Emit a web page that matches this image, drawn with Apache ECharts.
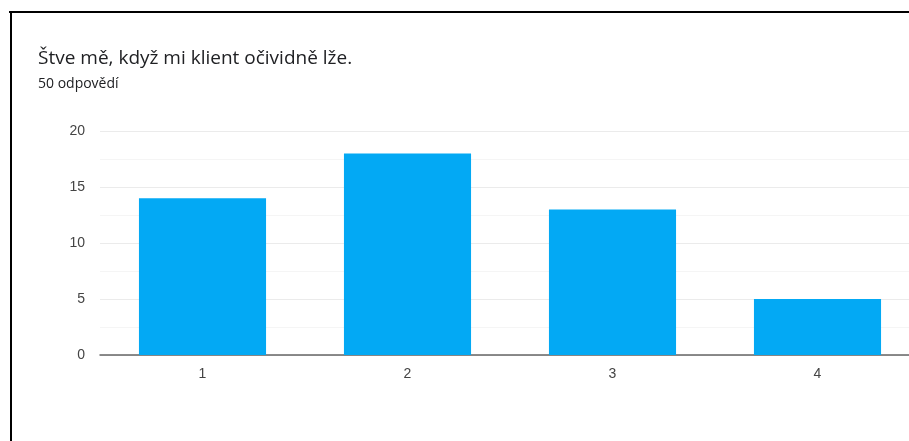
<!DOCTYPE html>
<html>
<head>
<meta charset="utf-8">
<script src="https://cdn.jsdelivr.net/npm/echarts@6/dist/echarts.min.js"></script>
<style>
  html, body { margin: 0; padding: 0; background: #fff; }
  #chart { width: 909px; height: 441px; }
</style>
</head>
<body>
<div id="chart"></div>
<script>
// Answer options on the scale and how many respondents picked each
const categories = ['1', '2', '3', '4'];
const counts = [14, 18, 13, 5];
const yTicks = [0, 5, 10, 15, 20];

const titleText = 'Štve mě, když mi klient očividně lže.';
const subtitleText = '50 odpovědí';

const chart = echarts.init(document.getElementById('chart'), null, { renderer: 'canvas' });

chart.setOption({
  backgroundColor: '#ffffff',
  animation: false,
  textStyle: { fontFamily: 'Arial, "Liberation Sans", sans-serif' },
  title: {
    text: titleText,
    subtext: subtitleText,
    left: 33,
    top: 44,
    itemGap: 9,
    textStyle: { fontSize: 19, fontWeight: 'normal', color: '#202124', fontFamily: '"Open Sans", Roboto, sans-serif' },
    subtextStyle: { fontSize: 14, color: '#202124', fontFamily: '"Open Sans", Roboto, sans-serif' }
  },
  graphic: [
    { type: 'line', shape: { x1: 9, y1: 12, x2: 909, y2: 12 }, style: { stroke: '#000', lineWidth: 2 } },
    { type: 'line', shape: { x1: 11, y1: 11, x2: 11, y2: 441 }, style: { stroke: '#000', lineWidth: 2 } }
  ],
  // the plot runs past the right edge of the canvas, so the last band is cut off
  grid: { left: 100, width: 820, top: 131, bottom: 86, containLabel: false, outerBoundsMode: 'none' },
  xAxis: {
    type: 'category',
    data: categories,
    axisLine: { show: true, lineStyle: { color: '#666', width: 1.5 } },
    axisTick: { show: false },
    axisLabel: { color: '#444', fontSize: 14, margin: 12 }
  },
  yAxis: {
    type: 'value',
    min: yTicks[0],
    max: yTicks[yTicks.length - 1],
    interval: 5,
    axisLine: { show: false },
    axisTick: { show: false },
    axisLabel: { color: '#444', fontSize: 14, margin: 15 },
    splitLine: { lineStyle: { color: '#ebebeb', width: 1 } },
    minorTick: { show: false, splitNumber: 2 },
    minorSplitLine: { show: true, lineStyle: { color: '#f5f5f5', width: 1 } }
  },
  series: [{
    type: 'bar',
    data: counts,
    barCategoryGap: '38%',
    itemStyle: { color: '#03a9f4' }
  }]
});
</script>
</body>
</html>
